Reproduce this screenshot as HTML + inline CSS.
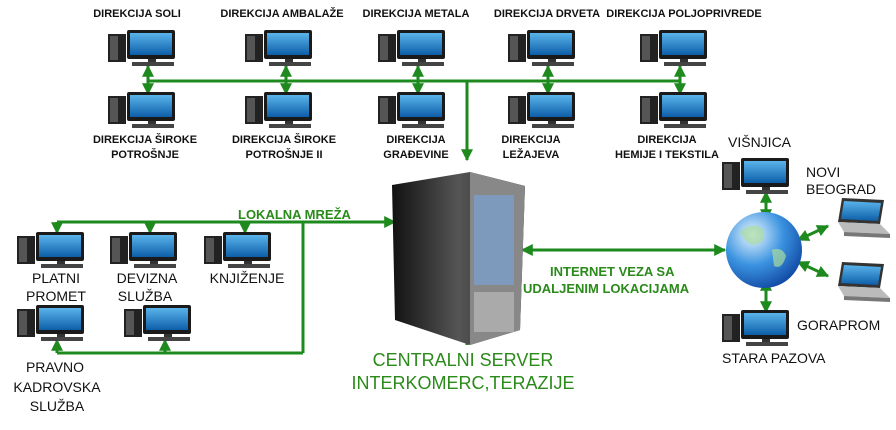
<!DOCTYPE html>
<html><head><meta charset="utf-8"><style>
html,body{margin:0;padding:0;background:#fff;}
svg{display:block;font-family:"Liberation Sans","DejaVu Sans",sans-serif;}
.t{font-size:11px;font-weight:bold;fill:#111;text-anchor:middle;}
.r{font-size:14px;fill:#111;}
.c{font-size:14px;fill:#111;text-anchor:middle;}
.g{fill:#2a8a1a;font-weight:bold;}
</style></head><body>
<svg width="896" height="430" viewBox="0 0 896 430">
<defs>
<linearGradient id="scr" x1="0" y1="0" x2="0" y2="1"><stop offset="0" stop-color="#5ab4ea"/><stop offset="1" stop-color="#0d5ea8"/></linearGradient>
<linearGradient id="srv" x1="0" y1="0" x2="1" y2="0"><stop offset="0" stop-color="#111"/><stop offset=".5" stop-color="#555"/><stop offset="1" stop-color="#222"/></linearGradient>
<radialGradient id="glb" cx=".35" cy=".3" r=".8"><stop offset="0" stop-color="#e8f6ff"/><stop offset=".5" stop-color="#3b93e0"/><stop offset="1" stop-color="#0b3f9c"/></radialGradient>
<marker id="a" viewBox="0 0 10 10" refX="9" refY="5" markerWidth="4" markerHeight="4" orient="auto-start-reverse"><path d="M0,0L10,5L0,10z" fill="#1e8a1e"/></marker>
<symbol id="pc" viewBox="0 0 70 36">
<rect x="0" y="4" width="18" height="28" fill="#222"/><rect x="2" y="6" width="8" height="24" fill="#555"/>
<rect x="19" y="0" width="48" height="29" rx="2" fill="#1a1a1a"/><rect x="22" y="3" width="42" height="22" fill="url(#scr)"/>
<rect x="40" y="29" width="8" height="3" fill="#333"/><rect x="24" y="32" width="42" height="4" fill="#444"/>
</symbol>
<symbol id="lap" viewBox="0 0 56 40">
<path d="M8,0L50,2L46,26L4,24z" fill="#333"/><path d="M10,3L47,5L44,23L7,21z" fill="url(#scr)"/>
<path d="M4,24L46,26L56,36L10,34z" fill="#bbb"/><path d="M10,34L56,36L56,40L10,38z" fill="#777"/>
</symbol>
</defs>
<g stroke="#1e8a1e" stroke-width="3" fill="none">
<line x1="148" y1="81" x2="680" y2="81"/>
<line x1="148" y1="66" x2="148" y2="94" marker-start="url(#a)" marker-end="url(#a)"/>
<line x1="286" y1="66" x2="286" y2="94" marker-start="url(#a)" marker-end="url(#a)"/>
<line x1="418" y1="66" x2="418" y2="94" marker-start="url(#a)" marker-end="url(#a)"/>
<line x1="548" y1="66" x2="548" y2="94" marker-start="url(#a)" marker-end="url(#a)"/>
<line x1="680" y1="66" x2="680" y2="94" marker-start="url(#a)" marker-end="url(#a)"/>
<line x1="467" y1="81" x2="467" y2="160" marker-end="url(#a)"/>
<line x1="57" y1="222" x2="303" y2="222"/>
<line x1="57" y1="222" x2="57" y2="233" marker-end="url(#a)"/>
<line x1="150" y1="222" x2="150" y2="233" marker-end="url(#a)"/>
<line x1="245" y1="222" x2="245" y2="233" marker-end="url(#a)"/>
<line x1="303" y1="222" x2="303" y2="353"/>
<line x1="303" y1="222" x2="395" y2="222" marker-end="url(#a)"/>
<line x1="57" y1="353" x2="303" y2="353"/>
<line x1="57" y1="353" x2="57" y2="340" marker-end="url(#a)"/>
<line x1="165" y1="353" x2="165" y2="340" marker-end="url(#a)"/>
<line x1="467" y1="345" x2="467" y2="320" marker-end="url(#a)"/>
<line x1="522" y1="250" x2="725" y2="250" marker-start="url(#a)" marker-end="url(#a)"/>
<line x1="766" y1="192" x2="766" y2="220" marker-start="url(#a)" marker-end="url(#a)"/>
<line x1="766" y1="280" x2="766" y2="312" marker-start="url(#a)" marker-end="url(#a)"/>
<line x1="798" y1="240" x2="828" y2="226" marker-start="url(#a)" marker-end="url(#a)"/>
<line x1="798" y1="262" x2="828" y2="276" marker-start="url(#a)" marker-end="url(#a)"/>
</g>
<use href="#pc" x="108" y="30" width="70" height="36"/>
<use href="#pc" x="245" y="30" width="70" height="36"/>
<use href="#pc" x="378" y="30" width="70" height="36"/>
<use href="#pc" x="508" y="30" width="70" height="36"/>
<use href="#pc" x="640" y="30" width="70" height="36"/>
<use href="#pc" x="108" y="92" width="70" height="36"/>
<use href="#pc" x="245" y="92" width="70" height="36"/>
<use href="#pc" x="378" y="92" width="70" height="36"/>
<use href="#pc" x="508" y="92" width="70" height="36"/>
<use href="#pc" x="640" y="92" width="70" height="36"/>
<use href="#pc" x="17" y="232" width="70" height="36"/>
<use href="#pc" x="110" y="232" width="70" height="36"/>
<use href="#pc" x="204" y="232" width="70" height="36"/>
<use href="#pc" x="17" y="305" width="70" height="36"/>
<use href="#pc" x="124" y="305" width="70" height="36"/>
<use href="#pc" x="722" y="158" width="70" height="36"/>
<use href="#pc" x="722" y="310" width="70" height="36"/>
<use href="#lap" x="834" y="198" width="56" height="40"/>
<use href="#lap" x="834" y="262" width="56" height="40"/>
<circle cx="764" cy="250" r="38" fill="url(#glb)"/>
<path d="M740,232q10,-10 22,-4q6,10 -4,16q-10,4 -18,-12zM772,250q10,-4 14,6q-4,14 -12,10z" fill="#a9dba0" opacity=".7"/>
<path d="M392,185L470,172L525,186L520,330L470,345L395,320z" fill="url(#srv)"/>
<path d="M470,172L525,186L520,330L470,345z" fill="#888"/>
<rect x="474" y="195" width="40" height="90" fill="#7a9fcc" opacity=".75"/>
<rect x="474" y="292" width="40" height="40" fill="#aaa"/>
<text class="t" x="137" y="17">DIREKCIJA SOLI</text>
<text class="t" x="282" y="17">DIREKCIJA AMBALAŽE</text>
<text class="t" x="416" y="17">DIREKCIJA METALA</text>
<text class="t" x="547" y="17">DIREKCIJA DRVETA</text>
<text class="t" x="684" y="17">DIREKCIJA POLJOPRIVREDE</text>
<text class="t" x="145" y="143">DIREKCIJA ŠIROKE</text><text class="t" x="145" y="158">POTROŠNJE</text>
<text class="t" x="284" y="143">DIREKCIJA ŠIROKE</text><text class="t" x="284" y="158">POTROŠNJE II</text>
<text class="t" x="416" y="143">DIREKCIJA</text><text class="t" x="416" y="158">GRAĐEVINE</text>
<text class="t" x="531" y="143">DIREKCIJA</text><text class="t" x="531" y="158">LEŽAJEVA</text>
<text class="t" x="667" y="143">DIREKCIJA</text><text class="t" x="667" y="158">HEMIJE I TEKSTILA</text>
<text class="g" x="238" y="219" font-size="13">LOKALNA MREŽA</text>
<text class="c" x="56" y="283">PLATNI</text><text class="c" x="56" y="301">PROMET</text>
<text class="c" x="147" y="283">DEVIZNA</text><text class="c" x="145" y="301">SLUŽBA</text>
<text class="c" x="247" y="283">KNJIŽENJE</text>
<text class="c" x="55" y="372">PRAVNO</text><text class="c" x="57" y="392">KADROVSKA</text><text class="c" x="57" y="411">SLUŽBA</text>
<text class="g" x="550" y="276" font-size="13">INTERNET VEZA SA</text>
<text class="g" x="523" y="293" font-size="13">UDALJENIM LOKACIJAMA</text>
<text x="463" y="366" font-size="18" fill="#2a8a1a" text-anchor="middle">CENTRALNI SERVER</text>
<text x="463" y="389" font-size="18" fill="#2a8a1a" text-anchor="middle">INTERKOMERC,TERAZIJE</text>
<text class="r" x="728" y="147">VIŠNJICA</text>
<text class="r" x="806" y="177">NOVI</text><text class="r" x="806" y="194">BEOGRAD</text>
<text class="r" x="797" y="330">GORAPROM</text>
<text class="r" x="722" y="363">STARA PAZOVA</text>
</svg>
</body></html>
